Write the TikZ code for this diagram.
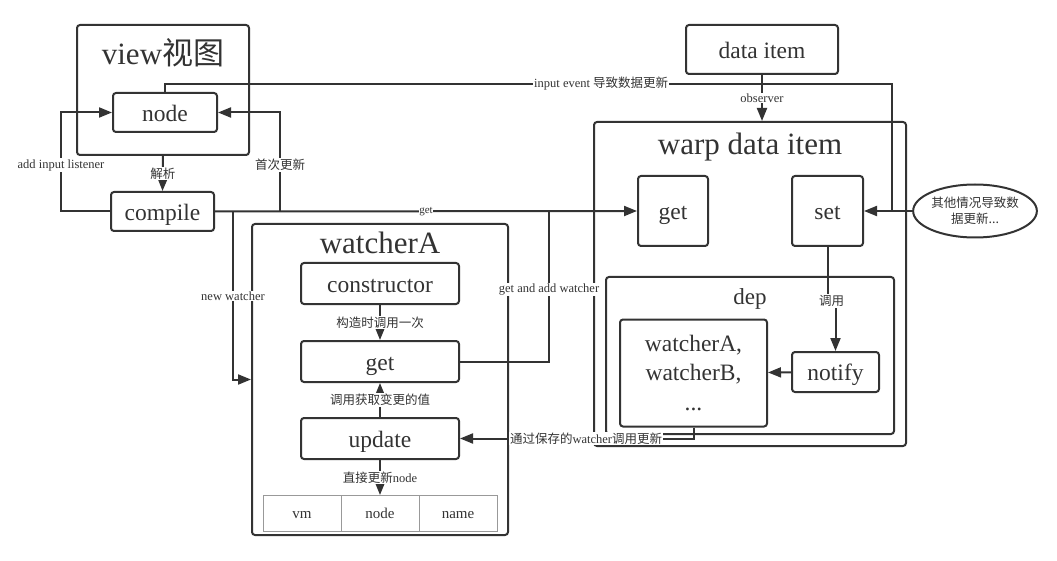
\documentclass[tikz,border=0pt]{standalone}
\usepackage{fontspec}
\setmainfont{Liberation Serif}
\newfontfamily\cjk{Noto Sans CJK SC}
\usetikzlibrary{arrows.meta, chains, positioning, shapes.geometric}
\tikzset{>={Triangle[width=10pt,length=13pt]}}
\definecolor{ink}{HTML}{333333}

\begin{document}
\begin{tikzpicture}[
    x = 1pt, y = -1pt,
    frame/.style = {draw=ink, line width=2pt, rounded corners=3pt, inner sep=0pt},
    box/.style = {frame, text=ink, text height=19.5pt, text depth=2pt,
        font=\fontsize{23.5}{26}\selectfont},
    title/.style = {text=ink, inner sep=0pt, font=\fontsize{31}{34}\selectfont},
    lbl/.style = {fill=white, text=ink, inner sep=1pt, font=\fontsize{12.5}{14}\selectfont},
    cell/.style = {draw=gray!80, line width=1pt, minimum width=78pt, minimum height=36pt,
        inner sep=0pt, outer sep=0pt, text=ink, text height=12pt, text depth=2pt,
        font=\fontsize{15}{17}\selectfont, on chain},
    link/.style = {draw=ink, line width=2pt}
  ]
  \useasboundingbox (0,0) rectangle (1057,561);

  % outer frames
  \node[frame, minimum width=172pt, minimum height=130pt] (view) at (163,90) {};
  \node[frame, minimum width=256pt, minimum height=311pt] (wbox) at (380,379.5) {};
  \node[frame, minimum width=312pt, minimum height=324pt] (warp) at (750,284) {};
  \node[frame, minimum width=288pt, minimum height=157pt] (dep) at (750,355.5) {};

  \node[title] (viewt) at (163,53) {view{\cjk 视图}};
  \node[title] (wboxt) at (380,243) {watcherA};
  \node[title] (warpt) at (750,147) {warp data item};
  \node[title, font=\fontsize{23}{26}\selectfont] (dept) at (750,299) {dep};

  % boxes
  \node[box, minimum width=104pt, minimum height=39pt] (vnode) at (165,112.5) {node};
  \node[box, minimum width=103pt, minimum height=39pt] (compile) at (162.5,211.5) {compile};
  \node[box, minimum width=158pt, minimum height=41pt] (ctor) at (380,283.5) {constructor};
  \node[box, minimum width=158pt, minimum height=41pt] (wget) at (380,361.5) {get};
  \node[box, minimum width=158pt, minimum height=41pt] (update) at (380,438.5) {update};
  \node[box, minimum width=152pt, minimum height=49pt] (data) at (762,49.5) {data item};
  \node[box, minimum width=70pt, minimum height=70pt] (dget) at (673,211) {get};
  \node[box, minimum width=71pt, minimum height=70pt] (dset) at (827.5,211) {set};
  \node[box, minimum width=147pt, minimum height=107pt, align=center,
        text height=, text depth=, font=\fontsize{23.5}{29.5}\selectfont]
        (wlist) at (693.5,373) {watcherA,\\watcherB,\\...};
  \node[box, minimum width=87pt, minimum height=40pt] (notify) at (835.5,372) {notify};
  \node[ellipse, draw=ink, line width=2pt, minimum width=115pt, minimum height=53pt,
        inner sep=0pt, align=center, text=ink, font=\cjk\fontsize{12.5}{16}\selectfont]
        (other) at (975,211) {其他情况导致数\\据更新...};

  \begin{scope}[shift={(302,513)}, start chain=going right, node distance=0pt]
    \foreach \t [count=\i] in {vm, node, name}
      \node[cell] (cell\i) {\t};
  \end{scope}

  % connectors
  \draw[link, ->] (view.south) -- (compile.north) node[lbl, midway] {\cjk 解析};

  \coordinate (lsn) at (61,165);
  \draw[link, ->] (compile.west) -| (lsn) node[lbl] {add input listener} |- (vnode.west);

  \coordinate (fst) at (280,165);
  \draw[link, ->] (compile.east -| fst) -- (fst) node[lbl] {\cjk 首次更新} |- (vnode.east);

  \draw[link, ->] (compile.east) -- (dget.west)
    node[lbl, midway, inner sep=0.5pt, font=\fontsize{11}{12}\selectfont] {get};

  \coordinate (nw) at (233,296);
  \draw[link, ->] (compile.east -| nw) -- (nw) node[lbl] {new watcher} |- (wbox.west);

  \coordinate (ie) at (892,84);
  \draw[link] (vnode.north) |- (ie) node[lbl, pos=0.8] {input event {\cjk 导致数据更新}}
    -- (ie |- dset.east);
  \draw[link, ->] (other.west) -- (dset.east);

  \draw[link, ->] (data.south) -- (data.south |- warp.north) node[lbl, midway] {observer};

  \coordinate (gaw) at (549,212);
  \draw[link] (wget.east) -| (gaw) node[lbl, pos=0.74] {get and add watcher};

  \draw[link, ->] (ctor) -- (wget) node[lbl, midway] {\cjk 构造时调用一次};
  \draw[link, ->] (update) -- (wget) node[lbl, midway] {\cjk 调用获取变更的值};
  \draw[link, ->] (update) -- (cell2) node[lbl, midway] {{\cjk 直接更新}node};

  \coordinate (dcall) at (832,301);
  \draw[link, ->] (dset.south) -- (dset.south |- dcall) -- (notify.north |- dcall)
    node[lbl, midway] {\cjk 调用} -- (notify.north);
  \draw[link, ->] (notify) -- (wlist);
  \draw[link, ->] (wlist.south) |- (update.east)
    node[lbl, pos=0.73] {{\cjk 通过保存的}watcher{\cjk 调用更新}};
\end{tikzpicture}
\end{document}
